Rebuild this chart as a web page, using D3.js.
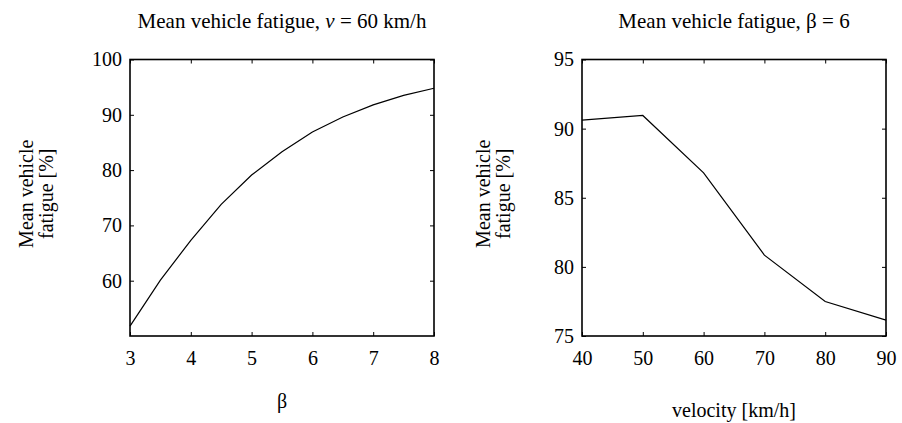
<!DOCTYPE html>
<html>
<head>
<meta charset="utf-8">
<script src="https://cdn.jsdelivr.net/npm/d3@7"></script>
<style>
  body { margin: 0; background: #fff; }
  svg text { font-family: "Liberation Serif", "Times New Roman", serif !important; fill: #000; }
</style>
</head>
<body>
<div id="hook"></div>
<script>
// Data - left panel (v = 60 km/h)
var betaValues = [3, 3.5, 4, 4.5, 5, 5.5, 6, 6.5, 7, 7.5, 8];
var fatigueByBeta = [51.8, 60.1, 67.3, 73.8, 79.1, 83.3, 86.9, 89.6, 91.8, 93.5, 94.8];
var betaTicks = [3, 4, 5, 6, 7, 8];
var fatigueTicksLeft = [60, 70, 80, 90, 100];

// Data - right panel (beta = 6)
var velocityValues = [40, 50, 60, 70, 80, 90];
var fatigueByVelocity = [90.61, 90.95, 86.8, 80.85, 77.49, 76.15];
var velocityTicks = [40, 50, 60, 70, 80, 90];
var fatigueTicksRight = [75, 80, 85, 90, 95];

var serif = "Liberation Serif, Times New Roman, serif";

var svg = d3.select("#hook").append("svg")
    .attr("width", 902)
    .attr("height", 423)
    .attr("font-family", serif);

function panel(opt) {
    var x = d3.scaleLinear().domain(opt.xDomain).range([opt.left, opt.right]);
    var y = d3.scaleLinear().domain(opt.yDomain).range([opt.bottom, opt.top]);
    var g = svg.append("g");

    // inward ticks on all four sides (box on)
    var tl = 4;
    var axes = [
        g.append("g").attr("transform", "translate(0," + opt.bottom + ")")
            .call(d3.axisBottom(x).tickValues(opt.xTicks).tickSize(-tl).tickPadding(15).tickFormat(d3.format("d"))),
        g.append("g").attr("transform", "translate(0," + opt.top + ")")
            .call(d3.axisTop(x).tickValues(opt.xTicks).tickSize(-tl).tickFormat("")),
        g.append("g").attr("transform", "translate(" + opt.left + ",0)")
            .call(d3.axisLeft(y).tickValues(opt.yTicks).tickSize(-tl).tickPadding(8).tickFormat(d3.format("d"))),
        g.append("g").attr("transform", "translate(" + opt.right + ",0)")
            .call(d3.axisRight(y).tickValues(opt.yTicks).tickSize(-tl).tickFormat(""))
    ];
    axes.forEach(function(a) {
        a.attr("font-family", serif).attr("font-size", 20);
    });

    g.selectAll(".domain").remove();
    g.selectAll(".tick line").attr("stroke", "#000").attr("stroke-width", 1);
    g.selectAll(".tick text").attr("fill", "#000")
        .attr("font-family", serif)
        .style("font-size", "20px");

    // box
    g.append("rect")
        .attr("x", opt.left).attr("y", opt.top)
        .attr("width", opt.right - opt.left).attr("height", opt.bottom - opt.top)
        .attr("fill", "none").attr("stroke", "#000").attr("stroke-width", 1.6);

    // the curve
    var line = d3.line()
        .x(function(d) { return x(d[0]); })
        .y(function(d) { return y(d[1]); });
    g.append("path")
        .datum(d3.zip(opt.xs, opt.ys))
        .attr("d", line)
        .attr("fill", "none")
        .attr("stroke", "#000")
        .attr("stroke-width", 1.2);

    // title
    var cx = (opt.left + opt.right) / 2;
    var t = g.append("text").attr("x", cx).attr("y", 28)
        .attr("text-anchor", "middle").style("font-size", "21px");
    opt.title(t);

    // x label
    g.append("text").attr("x", cx).attr("y", opt.xLabelY)
        .attr("text-anchor", "middle").style("font-size", "20px")
        .text(opt.xLabel);

    // y label (two lines)
    var cy = (opt.top + opt.bottom) / 2 - 4;
    ["Mean vehicle", "fatigue [%]"].forEach(function(s, i) {
        g.append("text")
            .attr("transform", "translate(" + (opt.yLabelX + i * 20) + "," + cy + ") rotate(-90)")
            .attr("text-anchor", "middle").style("font-size", "20px")
            .text(s);
    });
}

panel({
    left: 130, right: 434, top: 59.5, bottom: 336,
    xDomain: [3, 8], yDomain: [50, 100],
    xTicks: betaTicks, yTicks: fatigueTicksLeft,
    xs: betaValues, ys: fatigueByBeta,
    xLabel: "\u03b2", xLabelY: 408, yLabelX: 33,
    title: function(t) {
        t.append("tspan").text("Mean vehicle fatigue, ");
        t.append("tspan").style("font-style", "italic").text("v");
        t.append("tspan").text(" = 60 km/h");
    }
});

panel({
    left: 582, right: 886, top: 59.5, bottom: 336,
    xDomain: [40, 90], yDomain: [75, 95],
    xTicks: velocityTicks, yTicks: fatigueTicksRight,
    xs: velocityValues, ys: fatigueByVelocity,
    xLabel: "velocity [km/h]", xLabelY: 417, yLabelX: 490,
    title: function(t) {
        t.append("tspan").text("Mean vehicle fatigue, \u03b2 = 6");
    }
});
</script>
</body>
</html>
